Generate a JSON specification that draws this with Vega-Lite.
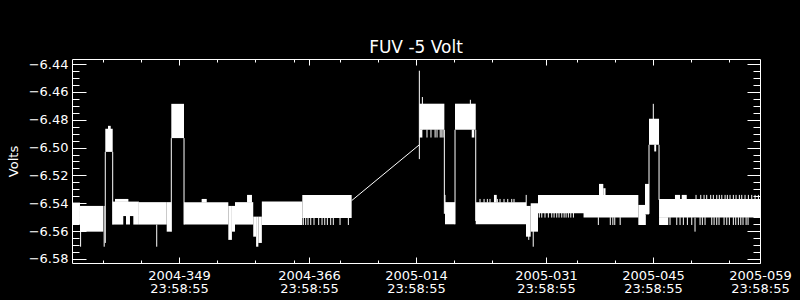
{
  "$schema": "https://vega.github.io/schema/vega-lite/v6.json",
  "background": "black",
  "autosize": {"type": "none"},
  "padding": {"left": 72, "top": 59, "right": 40, "bottom": 37},
  "width": 688,
  "height": 204,
  "title": {"text": "FUV -5 Volt", "color": "white", "font": "DejaVu Sans", "fontSize": 17, "fontWeight": "normal", "anchor": "middle", "frame": "group", "baseline": "alphabetic", "offset": -12},
  "datasets": {
    "blocks": [
      {"s":"2004-11-30T23:58:55Z","e":"2004-12-02T01:00Z","lo":-6.5553,"hi":-6.5395},
      {"s":"2004-12-02T01:00Z","e":"2004-12-05T02:00Z","lo":-6.5604,"hi":-6.5419},
      {"s":"2004-12-05T08:30Z","e":"2004-12-06T07:45Z","lo":-6.5031,"hi":-6.4865},
      {"s":"2004-12-05T17:00Z","e":"2004-12-06T01:30Z","lo":-6.4870,"hi":-6.4844},
      {"s":"2004-12-06T07:45Z","e":"2004-12-09T18:00Z","lo":-6.5492,"hi":-6.5388},
      {"s":"2004-12-06T07:45Z","e":"2004-12-07T17:00Z","lo":-6.5553,"hi":-6.5490},
      {"s":"2004-12-08T01:30Z","e":"2004-12-08T14:00Z","lo":-6.5553,"hi":-6.5490},
      {"s":"2004-12-09T00:30Z","e":"2004-12-09T18:00Z","lo":-6.5553,"hi":-6.5490},
      {"s":"2004-12-06T15:00Z","e":"2004-12-08T09:00Z","lo":-6.5390,"hi":-6.5369},
      {"s":"2004-12-09T18:00Z","e":"2004-12-13T09:20Z","lo":-6.5553,"hi":-6.5392},
      {"s":"2004-12-13T09:20Z","e":"2004-12-13T23:45Z","lo":-6.5604,"hi":-6.5392},
      {"s":"2004-12-13T23:45Z","e":"2004-12-15T15:40Z","lo":-6.4932,"hi":-6.4686},
      {"s":"2004-12-15T15:40Z","e":"2004-12-21T10:45Z","lo":-6.5553,"hi":-6.5392},
      {"s":"2004-12-17T23:00Z","e":"2004-12-18T15:00Z","lo":-6.5395,"hi":-6.5369},
      {"s":"2004-12-21T10:45Z","e":"2004-12-21T22:00Z","lo":-6.5663,"hi":-6.5419},
      {"s":"2004-12-21T22:00Z","e":"2004-12-22T07:40Z","lo":-6.5604,"hi":-6.5419},
      {"s":"2004-12-22T07:40Z","e":"2004-12-24T17:00Z","lo":-6.5553,"hi":-6.5392},
      {"s":"2004-12-23T21:30Z","e":"2004-12-24T13:00Z","lo":-6.5395,"hi":-6.5340},
      {"s":"2004-12-24T17:00Z","e":"2004-12-25T02:00Z","lo":-6.5640,"hi":-6.5496},
      {"s":"2004-12-25T02:00Z","e":"2004-12-25T09:00Z","lo":-6.5712,"hi":-6.5496},
      {"s":"2004-12-25T09:00Z","e":"2004-12-25T20:00Z","lo":-6.5685,"hi":-6.5496},
      {"s":"2004-12-25T20:00Z","e":"2004-12-31T03:00Z","lo":-6.5556,"hi":-6.5388},
      {"s":"2004-12-31T03:00Z","e":"2005-01-06T14:00Z","lo":-6.5505,"hi":-6.5340},
      {"s":"2005-01-15T10:30Z","e":"2005-01-18T17:00Z","lo":-6.4872,"hi":-6.4685},
      {"s":"2005-01-15T10:30Z","e":"2005-01-15T20:00Z","lo":-6.4928,"hi":-6.4870},
      {"s":"2005-01-18T19:00Z","e":"2005-01-20T02:30Z","lo":-6.5551,"hi":-6.5392},
      {"s":"2005-01-20T02:30Z","e":"2005-01-22T19:30Z","lo":-6.4872,"hi":-6.4685},
      {"s":"2005-01-22T07:00Z","e":"2005-01-22T15:00Z","lo":-6.4928,"hi":-6.4870},
      {"s":"2005-01-22T19:30Z","e":"2005-01-29T09:20Z","lo":-6.5551,"hi":-6.5392},
      {"s":"2005-01-25T04:45Z","e":"2005-01-25T13:30Z","lo":-6.5395,"hi":-6.5340},
      {"s":"2005-01-29T09:20Z","e":"2005-01-30T00:00Z","lo":-6.5640,"hi":-6.5419},
      {"s":"2005-01-30T00:00Z","e":"2005-01-30T23:00Z","lo":-6.5604,"hi":-6.5400},
      {"s":"2005-01-30T23:00Z","e":"2005-02-13T02:00Z","lo":-6.5471,"hi":-6.5340},
      {"s":"2005-02-05T22:00Z","e":"2005-02-13T02:00Z","lo":-6.5503,"hi":-6.5470},
      {"s":"2005-02-07T22:30Z","e":"2005-02-08T12:00Z","lo":-6.5345,"hi":-6.5261},
      {"s":"2005-02-08T12:00Z","e":"2005-02-08T19:00Z","lo":-6.5345,"hi":-6.5292},
      {"s":"2005-02-13T02:00Z","e":"2005-02-13T23:00Z","lo":-6.5556,"hi":-6.5412},
      {"s":"2005-02-13T23:00Z","e":"2005-02-14T11:30Z","lo":-6.5480,"hi":-6.5261},
      {"s":"2005-02-14T11:30Z","e":"2005-02-15T19:00Z","lo":-6.4980,"hi":-6.4793},
      {"s":"2005-02-15T04:00Z","e":"2005-02-15T10:00Z","lo":-6.5028,"hi":-6.4978},
      {"s":"2005-02-15T19:00Z","e":"2005-02-28T23:58:55Z","lo":-6.5503,"hi":-6.5369},
      {"s":"2005-02-15T19:00Z","e":"2005-02-17T00:00Z","lo":-6.5556,"hi":-6.5500},
      {"s":"2005-02-17T21:00Z","e":"2005-02-18T13:00Z","lo":-6.5372,"hi":-6.5340},
      {"s":"2005-02-18T18:15Z","e":"2005-02-19T10:00Z","lo":-6.5372,"hi":-6.5340}
    ],
    "edges": [
      {"t":"2004-12-02T03:00Z","lo":-6.5712,"hi":-6.5553},
      {"t":"2004-12-05T05:00Z","lo":-6.5712,"hi":-6.5419},
      {"t":"2004-12-05T08:30Z","lo":-6.5685,"hi":-6.5031},
      {"t":"2004-12-06T07:45Z","lo":-6.5553,"hi":-6.5031},
      {"t":"2004-12-12T02:00Z","lo":-6.5712,"hi":-6.5553},
      {"t":"2004-12-13T23:45Z","lo":-6.5604,"hi":-6.4932},
      {"t":"2004-12-15T15:40Z","lo":-6.5553,"hi":-6.4932},
      {"t":"2005-01-15T10:30Z","lo":-6.5083,"hi":-6.4448},
      {"t":"2005-01-15T20:00Z","lo":-6.4870,"hi":-6.4637},
      {"t":"2005-01-18T17:00Z","lo":-6.5476,"hi":-6.4872},
      {"t":"2005-01-18T19:00Z","lo":-6.5471,"hi":-6.5340},
      {"t":"2005-01-20T02:30Z","lo":-6.5551,"hi":-6.4872},
      {"t":"2005-01-22T02:40Z","lo":-6.4690,"hi":-6.4657},
      {"t":"2005-01-22T19:30Z","lo":-6.5527,"hi":-6.4872},
      {"t":"2005-01-29T10:00Z","lo":-6.5476,"hi":-6.5340},
      {"t":"2005-01-29T18:00Z","lo":-6.5663,"hi":-6.5600},
      {"t":"2005-01-30T08:00Z","lo":-6.5712,"hi":-6.5600},
      {"t":"2005-02-14T00:00Z","lo":-6.5556,"hi":-6.5480},
      {"t":"2005-02-14T11:30Z","lo":-6.5476,"hi":-6.4980},
      {"t":"2005-02-15T01:00Z","lo":-6.4795,"hi":-6.4686},
      {"t":"2005-02-15T19:00Z","lo":-6.5376,"hi":-6.4980},
      {"t":"2005-02-20T12:00Z","lo":-6.5604,"hi":-6.5503}
    ],
    "comb": [
      {"t":"2004-12-31T06:15Z","lo":-6.5556,"hi":-6.5500},
      {"t":"2004-12-31T13:40Z","lo":-6.5556,"hi":-6.5500},
      {"t":"2004-12-31T21:00Z","lo":-6.5556,"hi":-6.5500},
      {"t":"2005-01-01T05:30Z","lo":-6.5556,"hi":-6.5500},
      {"t":"2005-01-01T15:50Z","lo":-6.5556,"hi":-6.5500},
      {"t":"2005-01-02T06:30Z","lo":-6.5556,"hi":-6.5500},
      {"t":"2005-01-02T17:00Z","lo":-6.5556,"hi":-6.5500},
      {"t":"2005-01-03T01:30Z","lo":-6.5556,"hi":-6.5500},
      {"t":"2005-01-03T09:40Z","lo":-6.5556,"hi":-6.5500},
      {"t":"2005-01-03T20:10Z","lo":-6.5556,"hi":-6.5500},
      {"t":"2005-01-04T04:20Z","lo":-6.5556,"hi":-6.5500},
      {"t":"2005-01-05T01:30Z","lo":-6.5556,"hi":-6.5500},
      {"t":"2005-01-06T03:40Z","lo":-6.5556,"hi":-6.5500},
      {"t":"2005-01-16T10:30Z","lo":-6.4928,"hi":-6.4870},
      {"t":"2005-01-16T23:00Z","lo":-6.4928,"hi":-6.4870},
      {"t":"2005-01-17T12:00Z","lo":-6.4928,"hi":-6.4870},
      {"t":"2005-01-17T18:00Z","lo":-6.4928,"hi":-6.4870},
      {"t":"2005-01-18T04:00Z","lo":-6.4928,"hi":-6.4870},
      {"t":"2005-01-18T09:00Z","lo":-6.4928,"hi":-6.4870},
      {"t":"2005-01-18T13:00Z","lo":-6.4928,"hi":-6.4870},
      {"t":"2005-01-23T09:00Z","lo":-6.5395,"hi":-6.5369},
      {"t":"2005-01-23T21:40Z","lo":-6.5395,"hi":-6.5369},
      {"t":"2005-01-24T08:00Z","lo":-6.5395,"hi":-6.5369},
      {"t":"2005-01-24T16:20Z","lo":-6.5395,"hi":-6.5369},
      {"t":"2005-01-25T15:20Z","lo":-6.5395,"hi":-6.5369},
      {"t":"2005-01-25T23:50Z","lo":-6.5395,"hi":-6.5369},
      {"t":"2005-01-26T12:20Z","lo":-6.5395,"hi":-6.5369},
      {"t":"2005-01-27T00:00Z","lo":-6.5395,"hi":-6.5369},
      {"t":"2005-01-27T12:30Z","lo":-6.5395,"hi":-6.5369},
      {"t":"2005-01-27T19:40Z","lo":-6.5395,"hi":-6.5369},
      {"t":"2005-01-31T03:10Z","lo":-6.5503,"hi":-6.5470},
      {"t":"2005-01-31T10:50Z","lo":-6.5503,"hi":-6.5470},
      {"t":"2005-01-31T21:00Z","lo":-6.5503,"hi":-6.5470},
      {"t":"2005-02-01T07:30Z","lo":-6.5503,"hi":-6.5470},
      {"t":"2005-02-01T18:10Z","lo":-6.5503,"hi":-6.5470},
      {"t":"2005-02-02T01:30Z","lo":-6.5503,"hi":-6.5470},
      {"t":"2005-02-02T09:50Z","lo":-6.5503,"hi":-6.5470},
      {"t":"2005-02-02T17:00Z","lo":-6.5503,"hi":-6.5470},
      {"t":"2005-02-03T01:40Z","lo":-6.5503,"hi":-6.5470},
      {"t":"2005-02-03T09:00Z","lo":-6.5503,"hi":-6.5470},
      {"t":"2005-02-03T15:10Z","lo":-6.5503,"hi":-6.5470},
      {"t":"2005-02-03T22:20Z","lo":-6.5503,"hi":-6.5470},
      {"t":"2005-02-04T06:00Z","lo":-6.5503,"hi":-6.5470},
      {"t":"2005-02-04T14:10Z","lo":-6.5503,"hi":-6.5470},
      {"t":"2005-02-07T20:30Z","lo":-6.5556,"hi":-6.5500},
      {"t":"2005-02-09T10:00Z","lo":-6.5556,"hi":-6.5500},
      {"t":"2005-02-09T18:00Z","lo":-6.5556,"hi":-6.5500},
      {"t":"2005-02-10T00:00Z","lo":-6.5556,"hi":-6.5500},
      {"t":"2005-02-10T17:00Z","lo":-6.5556,"hi":-6.5500},
      {"t":"2005-02-17T05:30Z","lo":-6.5556,"hi":-6.5500},
      {"t":"2005-02-18T02:40Z","lo":-6.5556,"hi":-6.5500},
      {"t":"2005-02-18T13:00Z","lo":-6.5556,"hi":-6.5500},
      {"t":"2005-02-18T23:20Z","lo":-6.5556,"hi":-6.5500},
      {"t":"2005-02-19T12:00Z","lo":-6.5556,"hi":-6.5500},
      {"t":"2005-02-20T01:40Z","lo":-6.5556,"hi":-6.5500},
      {"t":"2005-02-21T03:50Z","lo":-6.5556,"hi":-6.5500},
      {"t":"2005-02-21T11:00Z","lo":-6.5556,"hi":-6.5500},
      {"t":"2005-02-21T19:30Z","lo":-6.5556,"hi":-6.5500},
      {"t":"2005-02-22T16:30Z","lo":-6.5556,"hi":-6.5500},
      {"t":"2005-02-22T23:50Z","lo":-6.5556,"hi":-6.5500},
      {"t":"2005-02-23T08:10Z","lo":-6.5556,"hi":-6.5500},
      {"t":"2005-02-23T15:20Z","lo":-6.5556,"hi":-6.5500},
      {"t":"2005-02-24T07:10Z","lo":-6.5556,"hi":-6.5500},
      {"t":"2005-02-24T15:40Z","lo":-6.5556,"hi":-6.5500},
      {"t":"2005-02-24T23:50Z","lo":-6.5556,"hi":-6.5500},
      {"t":"2005-02-25T12:20Z","lo":-6.5556,"hi":-6.5500},
      {"t":"2005-02-25T19:50Z","lo":-6.5556,"hi":-6.5500},
      {"t":"2005-02-26T04:00Z","lo":-6.5556,"hi":-6.5500},
      {"t":"2005-02-26T11:40Z","lo":-6.5556,"hi":-6.5500},
      {"t":"2005-02-26T18:40Z","lo":-6.5556,"hi":-6.5500},
      {"t":"2005-02-27T04:20Z","lo":-6.5556,"hi":-6.5500},
      {"t":"2005-02-27T10:30Z","lo":-6.5556,"hi":-6.5500},
      {"t":"2005-02-20T15:10Z","lo":-6.5372,"hi":-6.5340},
      {"t":"2005-02-21T06:00Z","lo":-6.5372,"hi":-6.5340},
      {"t":"2005-02-21T16:20Z","lo":-6.5372,"hi":-6.5340},
      {"t":"2005-02-22T00:40Z","lo":-6.5372,"hi":-6.5340},
      {"t":"2005-02-22T13:10Z","lo":-6.5372,"hi":-6.5340},
      {"t":"2005-02-22T21:30Z","lo":-6.5372,"hi":-6.5340},
      {"t":"2005-02-23T08:10Z","lo":-6.5372,"hi":-6.5340},
      {"t":"2005-02-23T16:20Z","lo":-6.5372,"hi":-6.5340},
      {"t":"2005-02-24T00:00Z","lo":-6.5372,"hi":-6.5340},
      {"t":"2005-02-24T10:20Z","lo":-6.5372,"hi":-6.5340},
      {"t":"2005-02-24T17:30Z","lo":-6.5372,"hi":-6.5340},
      {"t":"2005-02-25T01:55Z","lo":-6.5372,"hi":-6.5340},
      {"t":"2005-02-25T12:20Z","lo":-6.5372,"hi":-6.5340},
      {"t":"2005-02-25T20:50Z","lo":-6.5372,"hi":-6.5340},
      {"t":"2005-02-26T07:10Z","lo":-6.5372,"hi":-6.5340},
      {"t":"2005-02-26T14:40Z","lo":-6.5372,"hi":-6.5340},
      {"t":"2005-02-27T01:00Z","lo":-6.5372,"hi":-6.5340},
      {"t":"2005-02-27T11:30Z","lo":-6.5372,"hi":-6.5340},
      {"t":"2005-02-27T22:00Z","lo":-6.5372,"hi":-6.5340},
      {"t":"2005-02-28T08:30Z","lo":-6.5372,"hi":-6.5340},
      {"t":"2005-02-28T19:00Z","lo":-6.5372,"hi":-6.5340}
    ],
    "gap": [
      {"t":"2005-01-06T14:00Z","v":-6.5381},
      {"t":"2005-01-15T10:30Z","v":-6.4980}
    ]
  },
  "resolve": {"axis": {"x": "independent", "y": "independent"}},
  "layer": [
    {
      "data": {"name": "blocks"},
      "mark": {"type": "rect", "color": "white", "clip": true},
      "encoding": {
        "x": {"field": "s", "type": "temporal",
          "scale": {"type": "utc", "domain": [{"year":2004,"month":11,"date":30,"hours":23,"minutes":58,"seconds":55,"utc":true},{"year":2005,"month":2,"date":28,"hours":23,"minutes":58,"seconds":55,"utc":true}]},
          "axis": {"orient": "bottom", "title": null, "tickSize": -6, "labelPadding": 12, "labelFlush": false, "labelOverlap": false, "labelBaseline": "top", "labelLineHeight": 13.5,
            "values": [
              {"year":2004,"month":12,"date":14,"hours":23,"minutes":58,"seconds":55,"utc":true},
              {"year":2004,"month":12,"date":31,"hours":23,"minutes":58,"seconds":55,"utc":true},
              {"year":2005,"month":1,"date":14,"hours":23,"minutes":58,"seconds":55,"utc":true},
              {"year":2005,"month":1,"date":31,"hours":23,"minutes":58,"seconds":55,"utc":true},
              {"year":2005,"month":2,"date":14,"hours":23,"minutes":58,"seconds":55,"utc":true},
              {"year":2005,"month":2,"date":28,"hours":23,"minutes":58,"seconds":55,"utc":true}
            ],
            "labelExpr": "[utcFormat(datum.value, '%Y-%j'), utcFormat(datum.value, '%H:%M:%S')]"}},
        "x2": {"field": "e"},
        "y": {"field": "lo", "type": "quantitative",
          "scale": {"domain": [-6.5829, -6.4364], "nice": false, "zero": false},
          "axis": {"orient": "left", "title": "Volts", "titlePadding": 8, "tickSize": -14, "labelPadding": 18, "format": ".2f", "labelOverlap": false,
            "values": [-6.58, -6.56, -6.54, -6.52, -6.50, -6.48, -6.46, -6.44]}},
        "y2": {"field": "hi"}
      }
    },
    {
      "data": {"name": "edges"},
      "mark": {"type": "rule", "color": "white", "strokeWidth": 1, "clip": true},
      "encoding": {
        "x": {"field": "t", "type": "temporal",
          "scale": {"type": "utc", "domain": [{"year":2004,"month":11,"date":30,"hours":23,"minutes":58,"seconds":55,"utc":true},{"year":2005,"month":2,"date":28,"hours":23,"minutes":58,"seconds":55,"utc":true}]},
          "axis": {"orient": "top", "title": null, "labels": false, "tickSize": -6,
            "values": [
              {"year":2004,"month":12,"date":14,"hours":23,"minutes":58,"seconds":55,"utc":true},
              {"year":2004,"month":12,"date":31,"hours":23,"minutes":58,"seconds":55,"utc":true},
              {"year":2005,"month":1,"date":14,"hours":23,"minutes":58,"seconds":55,"utc":true},
              {"year":2005,"month":1,"date":31,"hours":23,"minutes":58,"seconds":55,"utc":true},
              {"year":2005,"month":2,"date":14,"hours":23,"minutes":58,"seconds":55,"utc":true}
            ]}},
        "y": {"field": "lo", "type": "quantitative",
          "scale": {"domain": [-6.5829, -6.4364], "nice": false, "zero": false},
          "axis": {"orient": "right", "title": null, "labels": false, "tickSize": -13,
            "values": [-6.58, -6.56, -6.54, -6.52, -6.50, -6.48, -6.46, -6.44]}},
        "y2": {"field": "hi"}
      }
    },
    {
      "data": {"name": "comb"},
      "mark": {"type": "rule", "color": "white", "strokeWidth": 1, "clip": true},
      "encoding": {
        "x": {"field": "t", "type": "temporal",
          "scale": {"type": "utc", "domain": [{"year":2004,"month":11,"date":30,"hours":23,"minutes":58,"seconds":55,"utc":true},{"year":2005,"month":2,"date":28,"hours":23,"minutes":58,"seconds":55,"utc":true}]},
          "axis": {"orient": "bottom", "title": null, "labels": false, "tickSize": -3,
            "values": [
              {"year":2004,"month":12,"date":4,"hours":23,"minutes":58,"seconds":55,"utc":true},
              {"year":2004,"month":12,"date":9,"hours":23,"minutes":58,"seconds":55,"utc":true},
              {"year":2004,"month":12,"date":19,"hours":23,"minutes":58,"seconds":55,"utc":true},
              {"year":2004,"month":12,"date":24,"hours":23,"minutes":58,"seconds":55,"utc":true},
              {"year":2004,"month":12,"date":29,"hours":23,"minutes":58,"seconds":55,"utc":true},
              {"year":2005,"month":1,"date":4,"hours":23,"minutes":58,"seconds":55,"utc":true},
              {"year":2005,"month":1,"date":9,"hours":23,"minutes":58,"seconds":55,"utc":true},
              {"year":2005,"month":1,"date":19,"hours":23,"minutes":58,"seconds":55,"utc":true},
              {"year":2005,"month":1,"date":24,"hours":23,"minutes":58,"seconds":55,"utc":true},
              {"year":2005,"month":2,"date":4,"hours":23,"minutes":58,"seconds":55,"utc":true},
              {"year":2005,"month":2,"date":9,"hours":23,"minutes":58,"seconds":55,"utc":true},
              {"year":2005,"month":2,"date":19,"hours":23,"minutes":58,"seconds":55,"utc":true},
              {"year":2005,"month":2,"date":24,"hours":23,"minutes":58,"seconds":55,"utc":true}
            ]}},
        "y": {"field": "lo", "type": "quantitative",
          "scale": {"domain": [-6.5829, -6.4364], "nice": false, "zero": false},
          "axis": {"orient": "left", "title": null, "labels": false, "tickSize": -7,
            "values": [-6.575, -6.57, -6.565, -6.555, -6.55, -6.545, -6.535, -6.53, -6.525, -6.515, -6.51, -6.505, -6.495, -6.49, -6.485, -6.475, -6.47, -6.465, -6.455, -6.45, -6.445]}},
        "y2": {"field": "hi"}
      }
    },
    {
      "data": {"name": "gap"},
      "mark": {"type": "line", "color": "white", "strokeWidth": 1, "clip": true},
      "encoding": {
        "x": {"field": "t", "type": "temporal",
          "scale": {"type": "utc", "domain": [{"year":2004,"month":11,"date":30,"hours":23,"minutes":58,"seconds":55,"utc":true},{"year":2005,"month":2,"date":28,"hours":23,"minutes":58,"seconds":55,"utc":true}]},
          "axis": {"orient": "top", "title": null, "labels": false, "tickSize": -3,
            "values": [
              {"year":2004,"month":12,"date":4,"hours":23,"minutes":58,"seconds":55,"utc":true},
              {"year":2004,"month":12,"date":9,"hours":23,"minutes":58,"seconds":55,"utc":true},
              {"year":2004,"month":12,"date":19,"hours":23,"minutes":58,"seconds":55,"utc":true},
              {"year":2004,"month":12,"date":24,"hours":23,"minutes":58,"seconds":55,"utc":true},
              {"year":2004,"month":12,"date":29,"hours":23,"minutes":58,"seconds":55,"utc":true},
              {"year":2005,"month":1,"date":4,"hours":23,"minutes":58,"seconds":55,"utc":true},
              {"year":2005,"month":1,"date":9,"hours":23,"minutes":58,"seconds":55,"utc":true},
              {"year":2005,"month":1,"date":19,"hours":23,"minutes":58,"seconds":55,"utc":true},
              {"year":2005,"month":1,"date":24,"hours":23,"minutes":58,"seconds":55,"utc":true},
              {"year":2005,"month":2,"date":4,"hours":23,"minutes":58,"seconds":55,"utc":true},
              {"year":2005,"month":2,"date":9,"hours":23,"minutes":58,"seconds":55,"utc":true},
              {"year":2005,"month":2,"date":19,"hours":23,"minutes":58,"seconds":55,"utc":true},
              {"year":2005,"month":2,"date":24,"hours":23,"minutes":58,"seconds":55,"utc":true}
            ]}},
        "y": {"field": "v", "type": "quantitative",
          "scale": {"domain": [-6.5829, -6.4364], "nice": false, "zero": false},
          "axis": {"orient": "right", "title": null, "labels": false, "tickSize": -7,
            "values": [-6.575, -6.57, -6.565, -6.555, -6.55, -6.545, -6.535, -6.53, -6.525, -6.515, -6.51, -6.505, -6.495, -6.49, -6.485, -6.475, -6.47, -6.465, -6.455, -6.45, -6.445]}}
      }
    }
  ],
  "config": {
    "view": {"stroke": "white", "strokeWidth": 1},
    "axis": {"domain": false, "grid": false, "tickColor": "white", "tickWidth": 1, "labelColor": "white", "titleColor": "white", "labelFont": "DejaVu Sans", "titleFont": "DejaVu Sans", "labelFontSize": 13, "titleFontSize": 13, "titleFontWeight": "normal"}
  }
}
